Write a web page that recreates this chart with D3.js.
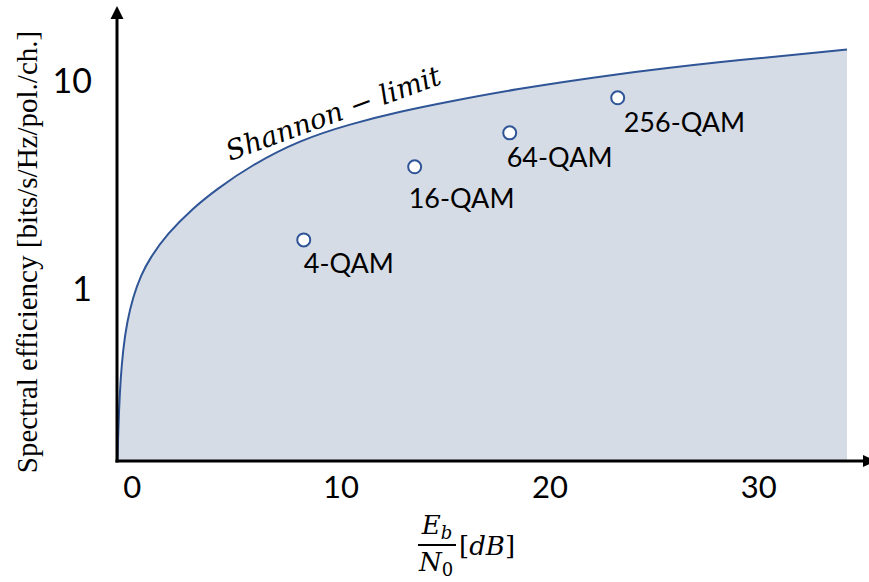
<!DOCTYPE html>
<html>
<head>
<meta charset="utf-8">
<script src="https://cdn.jsdelivr.net/npm/d3@7"></script>
<style>
  html, body { margin: 0; padding: 0; background: #fff; }
  svg { display: block; }
</style>
</head>
<body>
<svg id="chart" width="869" height="582"></svg>
<script>
// ---- data ----
const shannonEbN0 = [-0.676, -0.652, -0.604, -0.532, -0.413, -0.221, 0.066, 0.449, 0.880, 1.694, 2.938, 4.087, 5.667, 8.061, 10.454, 12.848, 15.098, 18.257, 23.044, 27.832, 34.247];
const shannonEta  = [0.147, 0.1855, 0.2586, 0.3603, 0.5023, 0.6849, 0.903, 1.152, 1.391, 1.814, 2.420, 2.987, 3.852, 5.137, 6.132, 7.042, 7.824, 8.985, 10.61, 12.12, 13.99];
const qamLabels = ["4-QAM", "16-QAM", "64-QAM", "256-QAM"];
const qamEbN0   = [8.24, 13.55, 18.1, 23.27];
const qamEta    = [1.70, 3.82, 5.56, 8.2];
const xTicks = [0, 10, 20, 30];
const yTicks = [1, 10];
const xDomain = [-0.7, 35.3];
const yDomain = [0.147, 22.4];

// ---- layout / style (not data) ----
const labelOffsets = [[0, 33], [-6, 41], [-3, 34], [6, 34]];
const blue = "#2f5597";
const fillCol = "#d6dce5";

const svg = d3.select("#chart");
const x = d3.scaleLinear().domain(xDomain).range([117, 869]);
const y = d3.scaleLog().domain(yDomain).range([461, 7]);

const curve = shannonEbN0.map((v, i) => ({x: v, y: shannonEta[i]}));

// filled region under the limit
const area = d3.area()
  .x(d => x(d.x))
  .y0(y(yDomain[0]))
  .y1(d => y(d.y))
  .curve(d3.curveBasis);
svg.append("path")
  .datum(curve)
  .attr("d", area)
  .attr("fill", fillCol);

// Shannon limit line
const line = d3.line().x(d => x(d.x)).y(d => y(d.y)).curve(d3.curveBasis);
svg.append("path")
  .datum(curve)
  .attr("d", line)
  .attr("fill", "none")
  .attr("stroke", blue)
  .attr("stroke-width", 2);

// axes with arrows
const x0 = x(xDomain[0]), y0 = y(yDomain[0]);
svg.append("line")
  .attr("x1", x0).attr("x2", x0)
  .attr("y1", y0 + 1.5).attr("y2", 17)
  .attr("stroke", "#000").attr("stroke-width", 3);
svg.append("path")
  .attr("d", `M${x0},6 L${x0 - 6.5},19 L${x0 + 6.5},19 Z`)
  .attr("fill", "#000");
svg.append("line")
  .attr("x1", x0 - 1.5).attr("x2", 864)
  .attr("y1", y0).attr("y2", y0)
  .attr("stroke", "#000").attr("stroke-width", 3);
svg.append("path")
  .attr("d", `M876,${y0} L863,${y0 - 6} L863,${y0 + 6} Z`)
  .attr("fill", "#000");

// x tick labels
const gx = svg.append("g")
  .attr("transform", `translate(0,${y0})`)
  .call(d3.axisBottom(x).tickValues(xTicks).tickSize(0).tickFormat(d3.format("d")));
gx.select(".domain").remove();
gx.selectAll("text")
  .attr("y", 37).attr("dy", 0)
  .attr("font-family", "Lato, 'Noto Sans', sans-serif")
  .attr("font-size", 31)
  .attr("fill", "#000");

// y tick labels
const gy = svg.append("g")
  .attr("transform", `translate(92,0)`)
  .call(d3.axisLeft(y).tickValues(yTicks).tickSize(0).tickFormat(d3.format("d")));
gy.select(".domain").remove();
gy.selectAll("text")
  .attr("x", 0).attr("dy", "0.36em")
  .attr("font-family", "Lato, 'Noto Sans', sans-serif")
  .attr("font-size", 34)
  .attr("fill", "#000");

// QAM points
const pts = qamLabels.map((l, i) => ({label: l, x: qamEbN0[i], y: qamEta[i], off: labelOffsets[i]}));
svg.selectAll("circle.qam").data(pts).join("circle")
  .attr("class", "qam")
  .attr("cx", d => x(d.x)).attr("cy", d => y(d.y))
  .attr("r", 6.5)
  .attr("fill", "#fff")
  .attr("stroke", blue)
  .attr("stroke-width", 2);
svg.selectAll("text.qam").data(pts).join("text")
  .attr("class", "qam")
  .attr("x", d => x(d.x) + d.off[0]).attr("y", d => y(d.y) + d.off[1])
  .attr("font-family", "Lato, 'Noto Sans', sans-serif")
  .attr("font-size", 27)
  .attr("fill", "#000")
  .text(d => d.label);

// Shannon label
svg.append("text")
  .attr("transform", "translate(230,161) rotate(-20)")
  .attr("font-family", "'DejaVu Serif', serif")
  .attr("font-style", "italic")
  .attr("font-size", 27.5)
  .attr("fill", "#000")
  .text("Shannon \u2212 limit");

// y axis title
svg.append("text")
  .attr("transform", "translate(37,252) rotate(-90)")
  .attr("text-anchor", "middle")
  .attr("font-family", "'Liberation Serif', 'Times New Roman', serif")
  .attr("font-size", 29)
  .attr("fill", "#000")
  .text("Spectral efficiency [bits/s/Hz/pol./ch.]");

// x axis title: Eb/N0 [dB]
const xt = svg.append("g").attr("font-family", "'DejaVu Serif', serif").attr("fill", "#000");
const num = xt.append("text").attr("x", 437).attr("y", 534).attr("text-anchor", "middle").attr("font-size", 26);
num.append("tspan").attr("font-style", "italic").text("E");
num.append("tspan").attr("font-style", "italic").attr("font-size", 18).attr("dy", 5).text("b");
xt.append("line").attr("x1", 418).attr("x2", 456).attr("y1", 545).attr("y2", 545)
  .attr("stroke", "#000").attr("stroke-width", 2);
const den = xt.append("text").attr("x", 436).attr("y", 571).attr("text-anchor", "middle").attr("font-size", 26);
den.append("tspan").attr("font-style", "italic").text("N");
den.append("tspan").attr("font-size", 18).attr("dy", 5).text("0");
const unit = xt.append("text").attr("x", 459).attr("y", 555).attr("font-size", 26);
unit.append("tspan").text("[");
unit.append("tspan").attr("font-style", "italic").text("dB");
unit.append("tspan").text("]");
</script>
</body>
</html>
